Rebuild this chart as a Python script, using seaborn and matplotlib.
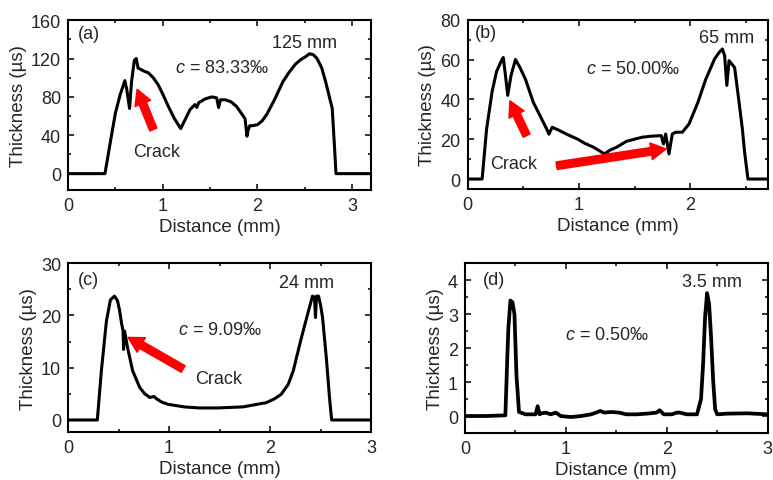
import matplotlib
matplotlib.use("Agg")
import matplotlib.pyplot as plt
from matplotlib.ticker import MultipleLocator
import seaborn as sns
import pandas as pd

# Profils d'épaisseur
xa = [0, 0.39, 0.44, 0.50, 0.55, 0.60, 0.62, 0.65, 0.67, 0.70, 0.72, 0.74, 0.80, 0.85, 0.90, 0.95,
      1.00, 1.06, 1.12, 1.19, 1.24, 1.29, 1.34, 1.36, 1.38, 1.45, 1.52, 1.57, 1.59, 1.61, 1.66,
      1.72, 1.78, 1.83, 1.87, 1.89, 1.90, 1.92, 1.95, 2.00, 2.05, 2.10, 2.18, 2.27, 2.33, 2.40,
      2.46, 2.51, 2.55, 2.59, 2.63, 2.68, 2.72, 2.76, 2.79, 2.81, 2.83, 3.2]
ya = [0, 0, 29, 63, 82, 97, 88, 68, 95, 118, 120, 110, 107, 105, 100, 93,
      83, 70, 58, 47, 57, 67, 72, 69, 74, 78, 80, 79, 69, 77, 77,
      75, 70, 63, 57, 39, 45, 50, 50, 51, 55, 62, 77, 96, 105, 114,
      119, 122, 125, 124, 120, 110, 96, 80, 68, 35, 0, 0]

xb = [0, 0.13, 0.17, 0.22, 0.26, 0.30, 0.32, 0.34, 0.36, 0.39, 0.43, 0.47, 0.52, 0.59, 0.64,
      0.68, 0.72, 0.73, 0.76, 0.82, 0.89, 0.99, 1.05, 1.13, 1.19, 1.23, 1.28, 1.34, 1.43, 1.50,
      1.57, 1.65, 1.74, 1.76, 1.78, 1.81, 1.84, 1.87, 1.93, 1.99, 2.07, 2.14, 2.22, 2.26, 2.29,
      2.31, 2.33, 2.35, 2.40, 2.44, 2.47, 2.49, 2.52, 2.7]
yb = [0, 0, 25, 44, 54, 59, 61, 52, 42, 52, 60, 56, 50, 38.5, 33,
      28.5, 24, 22.5, 26, 24.5, 22.5, 20, 18, 16, 14, 12.6, 14.5, 16, 19, 20,
      21, 21.5, 21.8, 17.6, 22.6, 12.6, 22.6, 23.5, 23.5, 27.6, 38.5, 50, 60.3, 63.5, 65.3,
      62, 47, 59.4, 56, 38.5, 25, 13.4, 0, 0]

xc = [0, 0.29, 0.33, 0.38, 0.42, 0.46, 0.49, 0.51, 0.53, 0.545, 0.55, 0.56, 0.59, 0.64, 0.71,
      0.76, 0.81, 0.85, 0.88, 0.93, 0.99, 1.15, 1.3, 1.48, 1.73, 1.96, 2.04, 2.11, 2.18, 2.23,
      2.31, 2.38, 2.42, 2.44, 2.45, 2.46, 2.48, 2.50, 2.52, 2.56, 2.59, 2.61, 3.0]
yc = [0, 0, 9.4, 18.9, 23, 23.7, 22.8, 21, 18.5, 17, 13.5, 17, 13.8, 9.4, 6.2,
      5, 4.3, 4.5, 4.0, 3.4, 3.0, 2.5, 2.3, 2.3, 2.5, 3.3, 4, 4.9, 6.8, 9.4,
      15.7, 20.8, 23.7, 23.5, 19.6, 23.7, 23.7, 22, 19.6, 11.3, 4, 0, 0]

xd = [0, 0.2, 0.40, 0.42, 0.43, 0.45, 0.47, 0.49, 0.51, 0.535, 0.6, 0.7, 0.72, 0.74, 0.76,
      0.8, 0.85, 0.9, 0.95, 1.05, 1.15, 1.25, 1.3, 1.34, 1.38, 1.45, 1.53, 1.6, 1.7, 1.8,
      1.9, 1.93, 1.97, 2.05, 2.1, 2.13, 2.2, 2.3, 2.34, 2.36, 2.38, 2.40, 2.42, 2.44, 2.46,
      2.48, 2.50, 2.6, 2.8, 3.0]
yd = [0, 0, 0.02, 1.8, 2.6, 3.4, 3.35, 3.0, 1.2, 0.12, 0.05, 0.05, 0.29, 0.05, 0.08,
      0.1, 0.05, 0.1, 0.0, -0.03, 0.0, 0.05, 0.1, 0.15, 0.1, 0.12, 0.1, 0.05, 0.05, 0.07,
      0.1, 0.17, 0.05, 0.05, 0.1, 0.1, 0.05, 0.05, 0.5, 1.5, 2.9, 3.62, 3.3, 2.3, 1.06,
      0.2, 0.05, 0.07, 0.08, 0.05]

labels = ["(a)", "(b)", "(c)", "(d)"]
tailles = ["125 mm", "65 mm", "24 mm", "3.5 mm"]
concentrations = ["83.33‰", "50.00‰", "9.09‰", "0.50‰"]

sns.set_theme(style="ticks")
plt.rcParams["font.family"] = ["Liberation Sans", "DejaVu Sans"]
plt.rcParams["mathtext.fontset"] = "custom"
plt.rcParams["mathtext.it"] = "Liberation Sans:italic"
plt.rcParams["mathtext.rm"] = "Liberation Sans"

fig = plt.figure(figsize=(7.73, 4.81), dpi=100)

# position des axes, limites, pas des graduations
panneaux = [
    dict(x=xa, y=ya, rect=[0.088, 0.603, 0.392, 0.353], xlim=(0, 3.2), ylim=(-17, 160),
         xmaj=1, xmin=0.5, ymaj=40, ymin=20, lw=2.2,
         pos_lab=(0.033, 0.92), pos_mm=(0.78, 0.87), pos_c=(0.507, 0.72)),
    dict(x=xb, y=yb, rect=[0.605, 0.605, 0.3885, 0.352], xlim=(0, 2.7), ylim=(-5, 80),
         xmaj=1, xmin=0.5, ymaj=20, ymin=10, lw=2.2,
         pos_lab=(0.024, 0.925), pos_mm=(0.862, 0.896), pos_c=(0.551, 0.709)),
    dict(x=xc, y=yc, rect=[0.088, 0.0998, 0.392, 0.351], xlim=(0, 3), ylim=(-2.3, 30),
         xmaj=1, xmin=0.5, ymaj=10, ymin=5, lw=2.2,
         pos_lab=(0.033, 0.905), pos_mm=(0.788, 0.886), pos_c=(0.501, 0.609)),
    dict(x=xd, y=yd, rect=[0.6016, 0.0977, 0.3914, 0.353], xlim=(0, 3), ylim=(-0.5, 4.5),
         xmaj=1, xmin=0.5, ymaj=1, ymin=0.5, lw=2.7,
         pos_lab=(0.058, 0.906), pos_mm=(0.815, 0.89), pos_c=(0.468, 0.582)),
]

axes = []
for i, p in enumerate(panneaux):
    ax = fig.add_axes(p["rect"])
    df = pd.DataFrame({"Distance": p["x"], "Epaisseur": p["y"]})
    sns.lineplot(data=df, x="Distance", y="Epaisseur", ax=ax, color="black", lw=p["lw"])
    ax.set_xlim(p["xlim"])
    ax.set_ylim(p["ylim"])
    ax.xaxis.set_major_locator(MultipleLocator(p["xmaj"]))
    ax.xaxis.set_minor_locator(MultipleLocator(p["xmin"]))
    ax.yaxis.set_major_locator(MultipleLocator(p["ymaj"]))
    ax.yaxis.set_minor_locator(MultipleLocator(p["ymin"]))
    ax.tick_params(which="both", direction="in", top=True, right=True, width=1.3, labelsize=13, pad=5)
    ax.tick_params(which="major", length=4)
    ax.tick_params(which="minor", length=2.5)
    for s in ax.spines.values():
        s.set_linewidth(1.5)
        s.set_color("black")
    ax.set_xlabel("Distance (mm)", fontsize=13.5, labelpad=3)
    ax.set_ylabel("Thickness (µs)", fontsize=13.5, labelpad=3)
    ax.text(*p["pos_lab"], labels[i], transform=ax.transAxes, fontsize=13, ha="left", va="center")
    ax.text(*p["pos_mm"], tailles[i], transform=ax.transAxes, fontsize=13, ha="center", va="center")
    ax.text(*p["pos_c"], "$c$ = " + concentrations[i], transform=ax.transAxes, fontsize=13,
            ha="center", va="center")
    axes.append(ax)

# Flèches rouges "Crack"
style = "simple,head_width=1.1,head_length=1.0,tail_width=0.5"
fleches = [(0, (0.73, 88), (0.90, 46)),
           (1, (0.38, 39.3), (0.53, 21.8)),
           (1, (1.785, 15.1), (0.80, 6.7)),
           (2, (0.594, 15.8), (1.14, 9.75))]
for k, pointe, queue in fleches:
    axes[k].annotate("", xy=pointe, xytext=queue,
                     arrowprops=dict(arrowstyle=style, color="red", mutation_scale=11, shrinkA=0, shrinkB=0))

pos_crack = [(0, (0.293, 0.225)), (1, (0.152, 0.148)), (2, (0.496, 0.314))]
for k, pos in pos_crack:
    axes[k].text(*pos, "Crack", transform=axes[k].transAxes, fontsize=13, ha="center", va="center")

plt.savefig("out.png", dpi=100)
